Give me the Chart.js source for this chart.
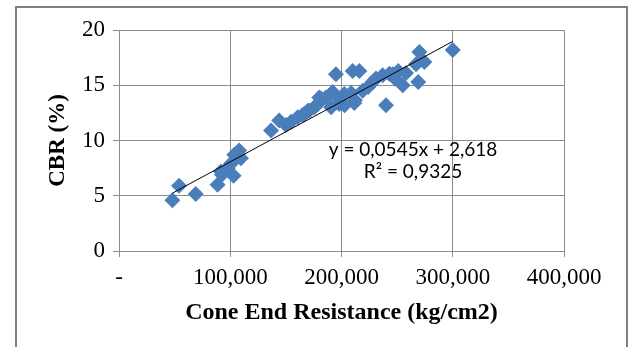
<!DOCTYPE html>
<html>
<head>
<meta charset="utf-8">
<script src="https://cdn.jsdelivr.net/npm/chart.js@4/dist/chart.umd.min.js"></script>
<style>
  html, body { margin: 0; padding: 0; background: #fff; }
  #wrap { width: 635px; height: 347px; position: relative; }
  #frame {
    position: absolute; left: 15px; top: 6px; width: 609px; height: 360px;
    border-left: 2px solid #808080; border-top: 2px solid #808080; border-right: 2px solid #808080;
    pointer-events: none; z-index: 5;
  }
</style>
</head>
<body>
<div id="wrap"><canvas id="cbr-chart"></canvas><div id="frame"></div></div>
<script>
// measured points: cone end resistance (kg/cm2) vs CBR (%)
const coneResistance = [48000, 54000, 69000, 88600, 91600, 92500, 97600, 100600, 103000, 103600,
  106600, 108000, 109600, 136700, 144000, 150000, 154700, 160700, 165000, 166700,
  169700, 171000, 175700, 178700, 180000, 181600, 186000, 190700, 192000, 195000,
  196600, 198000, 202600, 202700, 208600, 210000, 211500, 212000, 216000, 219000,
  224000, 228000, 231000, 237000, 240000, 243000, 246000, 248000, 251000, 255000,
  258000, 267000, 269000, 270000, 274500, 300000];
const cbrValues = [4.6, 5.9, 5.15, 6.0, 7.2, 6.9, 7.5, 7.9, 6.8, 8.7,
  8.7, 9.1, 8.4, 10.9, 11.8, 11.4, 11.7, 12.1, 12.3, 12.4,
  12.7, 12.7, 13.0, 13.3, 13.9, 13.8, 13.9, 13.0, 14.4, 16.0,
  13.9, 13.3, 14.2, 13.2, 14.3, 16.3, 13.4, 13.65, 16.3, 14.5,
  14.85, 15.3, 15.6, 15.9, 13.2, 16.05, 16.0, 15.6, 16.3, 15.0,
  16.1, 16.9, 15.3, 18.0, 17.1, 18.2];

// linear fit shown on the chart (x in thousands)
const fitSlope = 0.0545;
const fitIntercept = 2.618;
const fitLabels = ['y = 0,0545x + 2,618', 'R\u00B2 = 0,9325'];

const xTicks = [0, 100000, 200000, 300000, 400000];
const yTicks = [0, 5, 10, 15, 20];

const points = coneResistance.map((x, i) => ({ x: x, y: cbrValues[i] }));
const xMin = Math.min(...coneResistance);
const xMax = Math.max(...coneResistance);
const trend = [xMin, xMax].map(x => ({ x: x, y: fitSlope * x / 1000 + fitIntercept }));

const serif = '"Liberation Serif", "Times New Roman", serif';

const frameAndText = {
  id: 'frameAndText',
  afterDraw(chart) {
    const ctx = chart.ctx;
    ctx.save();
    // outer chart frame, open at the bottom
    ctx.fillStyle = '#808080';
    ctx.fillRect(15, 6, 2, 341);
    ctx.fillRect(15, 6, 613, 2);
    ctx.fillRect(626, 6, 2, 341);

    ctx.fillStyle = '#000';
    ctx.font = '19px Lato, "Open Sans", sans-serif';
    ctx.textAlign = 'center';
    ctx.textBaseline = 'middle';
    ctx.fillText(fitLabels[0], 413, 150);
    ctx.fillText(fitLabels[1], 413, 172);
    ctx.restore();
  }
};

new Chart(document.getElementById('cbr-chart'), {
  type: 'scatter',
  data: {
    datasets: [{
      label: 'CBR',
      data: points,
      pointStyle: 'rectRot',
      pointRadius: 8,
      pointBackgroundColor: '#4a7ebb',
      pointBorderColor: '#4a7ebb',
      pointBorderWidth: 0,
      order: 2
    }, {
      label: 'Linear',
      type: 'line',
      data: trend,
      borderColor: '#000',
      borderWidth: 1,
      pointRadius: 0,
      fill: false,
      order: 1
    }]
  },
  options: {
    responsive: true,
    maintainAspectRatio: false,
    animation: false,
    layout: { padding: { left: 44, right: 71, top: 30, bottom: 0 } },
    plugins: {
      legend: { display: false },
      tooltip: { enabled: false }
    },
    scales: {
      x: {
        type: 'linear',
        min: 0,
        max: 400000,
        afterBuildTicks: axis => { axis.ticks = xTicks.map(v => ({ value: v })); },
        afterFit: axis => { axis.height = 96; },
        grid: { color: '#8c8c8c', tickLength: 6 },
        border: { color: '#8c8c8c' },
        ticks: {
          color: '#000',
          padding: 7,
          maxRotation: 0,
          font: { family: serif, size: 23 },
          callback: v => v === 0 ? '-' : v.toLocaleString('en-US')
        },
        title: {
          display: true,
          text: 'Cone End Resistance (kg/cm2)',
          color: '#000',
          font: { family: serif, size: 24, weight: 'bold' },
          padding: { top: 0, bottom: 20 }
        }
      },
      y: {
        min: 0,
        max: 20,
        afterBuildTicks: axis => { axis.ticks = yTicks.map(v => ({ value: v })); },
        afterFit: axis => { axis.width = 75; },
        grid: { color: '#8c8c8c', tickLength: 6 },
        border: { color: '#8c8c8c' },
        ticks: {
          color: '#000',
          padding: 8,
          font: { family: serif, size: 23 }
        },
        title: {
          display: true,
          text: 'CBR (%)',
          color: '#000',
          font: { family: serif, size: 23, weight: 'bold' },
          padding: { top: 0, bottom: 0 }
        }
      }
    }
  },
  plugins: [frameAndText]
});
</script>
</body>
</html>
